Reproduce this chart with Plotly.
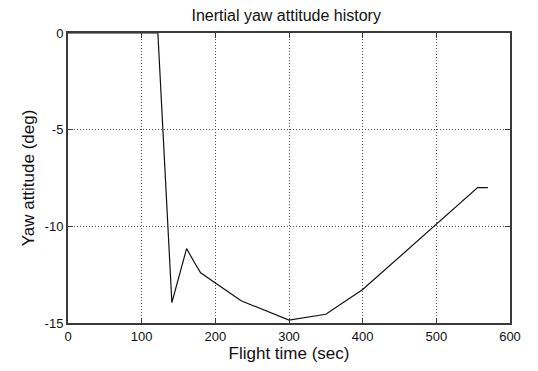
import plotly.graph_objects as go

# Inertial yaw attitude vs. flight time
flight_time_sec = [0, 122, 141, 161, 172, 180, 235, 300, 350, 400, 556, 570]
yaw_attitude_deg = [0.0, 0.0, -13.95, -11.15, -11.9, -12.4, -13.85, -14.85, -14.55, -13.27, -8.0, -8.0]

x_ticks = [0, 100, 200, 300, 400, 500, 600]
y_ticks = [0, -5, -10, -15]

FONT = "Liberation Sans, Arial, sans-serif"
INK = "#111111"

fig = go.Figure()
fig.add_trace(go.Scatter(
    x=flight_time_sec,
    y=yaw_attitude_deg,
    mode="lines",
    line=dict(color=INK, width=1.2),
    showlegend=False,
))

axis_common = dict(
    showline=True,
    linecolor="#3a3a3a",
    linewidth=2,
    mirror="allticks",
    ticks="inside",
    ticklen=5,
    tickcolor="#3a3a3a",
    showgrid=True,
    gridcolor="#555555",
    gridwidth=1,
    griddash="1px,2px",
    zeroline=False,
    tickfont=dict(family=FONT, size=13, color=INK),
)

fig.update_layout(
    width=538,
    height=371,
    margin=dict(l=68, r=28, t=33, b=45),
    paper_bgcolor="white",
    plot_bgcolor="white",
    title=dict(
        text="Inertial yaw attitude history",
        x=0.532, xanchor="center",
        y=1 - 15 / 371, yanchor="middle",
        font=dict(family=FONT, size=16, color=INK),
    ),
    xaxis=dict(
        range=[0, 600],
        tickvals=x_ticks,
        ticktext=[str(v) for v in x_ticks],
        title=dict(text="Flight time (sec)", font=dict(family=FONT, size=17, color=INK), standoff=4),
        **axis_common,
    ),
    yaxis=dict(
        range=[-15, 0],
        tickvals=y_ticks,
        ticktext=[str(v) for v in y_ticks],
        title=dict(text="Yaw attitude (deg)", font=dict(family=FONT, size=17, color=INK), standoff=6),
        **axis_common,
    ),
)

fig.write_html("out.html")
